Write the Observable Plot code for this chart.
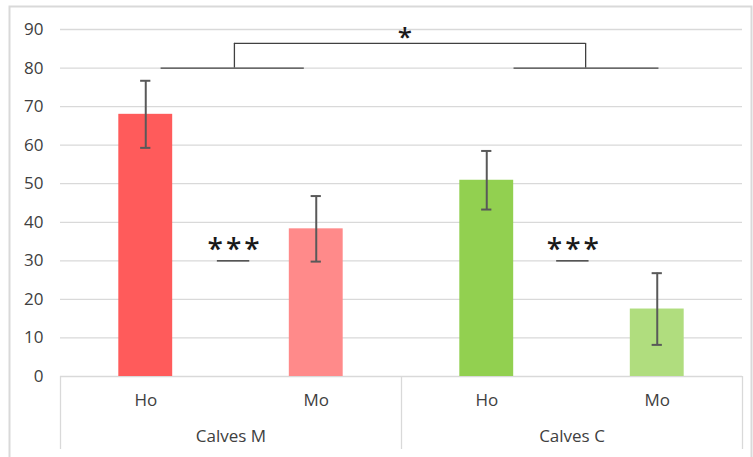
<!DOCTYPE html>
<html>
<head>
<meta charset="utf-8">
<script src="https://cdn.jsdelivr.net/npm/d3@7"></script>
<script src="https://cdn.jsdelivr.net/npm/@observablehq/plot@0.6"></script>
<style>
  html, body { margin: 0; padding: 0; background: #fff; }
  #chart svg { display: block; }
  #chart .sig text { letter-spacing: 3px; }
</style>
</head>
<body>
<div id="chart"></div>
<script>
// Group and treatment names (bars are ordered group by group)
const groups = ["Calves M", "Calves C"];
const treatments = ["Ho", "Mo"];

// Bar heights and error-bar half widths, one per bar
const means = [68.0, 38.3, 50.9, 17.5];
const errors = [8.7, 8.5, 7.6, 9.3];
const colors = ["#ff5b5b", "#ff8a8a", "#92d050", "#b0dd7e"];

// Y ticks
const yTicks = [0, 10, 20, 30, 40, 50, 60, 70, 80, 90];

// Significance marks: within each group (between Ho and Mo) ...
const withinSig = [
  {x1: 0.92, x2: 1.11, y: 30, label: "***"},
  {x1: 2.91, x2: 3.10, y: 30, label: "***"}
];
// ... and between the two groups (bracket joining the two group lines)
const groupLines = [
  {x1: 0.59, x2: 1.43, y: 80},
  {x1: 2.66, x2: 3.51, y: 80}
];
const bracket = {xa: 1.02, xb: 3.08, yBase: 80, yTop: 86.4, label: "*", xLabel: 2.02};

// One row per bar, positioned on a linear index scale (bar i centred at i + 0.5)
const bars = means.map((m, i) => ({
  i,
  group: groups[Math.floor(i / 2)],
  treatment: treatments[i % 2],
  mean: m,
  err: errors[i],
  color: colors[i]
}));
const half = 0.158;   // half bar width in index units
const cap = 0.03;     // half cap width in index units

const textColor = "#404040";
const gridColor = "#d9d9d9";

const chart = Plot.plot({
  width: 753,
  height: 457,
  marginLeft: 60,
  marginRight: 11,
  marginTop: 29,
  marginBottom: 81,
  style: {fontFamily: "'Open Sans', sans-serif", fontSize: "17px", color: textColor, background: "#fff"},
  x: {type: "linear", domain: [0, 4], axis: null},
  y: {domain: [0, 90], axis: null},
  marks: [
    // outer chart border
    Plot.frame({stroke: gridColor, strokeWidth: 2, insetLeft: -51, insetTop: -23, insetRight: -9, insetBottom: -90}),
    // horizontal gridlines
    Plot.ruleY(yTicks, {stroke: gridColor, strokeWidth: 1.3}),
    // category box separators below the baseline
    Plot.ruleX([0, 2, 4], {stroke: gridColor, strokeWidth: 1.3, insetTop: 347, insetBottom: -73}),
    Plot.axisY({ticks: yTicks, tickSize: 0, tickPadding: 17, fontSize: 17, label: null, fill: textColor}),
    Plot.axisX({
      ticks: [0.5, 1.5, 2.5, 3.5],
      tickFormat: d => treatments[Math.floor(d) % 2],
      tickSize: 0, tickPadding: 17, fontSize: 17, label: null, fill: textColor
    }),
    Plot.axisX({
      ticks: [1, 3],
      tickFormat: d => groups[(d - 1) / 2],
      tickSize: 0, tickPadding: 53, fontSize: 17, label: null, fill: textColor
    }),
    // bars
    Plot.rectY(bars, {
      x1: d => d.i + 0.5 - half,
      x2: d => d.i + 0.5 + half,
      y1: 0,
      y2: "mean",
      fill: "color"
    }),
    // error bars
    Plot.ruleX(bars, {x: d => d.i + 0.5, y1: d => d.mean - d.err, y2: d => d.mean + d.err, stroke: "#595959", strokeWidth: 2}),
    Plot.ruleY(bars, {y: d => d.mean + d.err, x1: d => d.i + 0.5 - cap, x2: d => d.i + 0.5 + cap, stroke: "#595959", strokeWidth: 2}),
    Plot.ruleY(bars, {y: d => d.mean - d.err, x1: d => d.i + 0.5 - cap, x2: d => d.i + 0.5 + cap, stroke: "#595959", strokeWidth: 2}),
    // within-group significance
    Plot.ruleY(withinSig, {y: "y", x1: "x1", x2: "x2", stroke: "#262626", strokeWidth: 1.2}),
    Plot.text(withinSig, {
      x: d => (d.x1 + d.x2) / 2, y: "y", text: "label",
      fontSize: 28, fontWeight: 600, fill: "#1a1a1a", dy: -2, dx: 1.5, lineAnchor: "bottom",
      className: "sig"
    }),
    // between-group bracket
    Plot.ruleY(groupLines, {y: "y", x1: "x1", x2: "x2", stroke: "#404040", strokeWidth: 1.3}),
    Plot.ruleX([bracket.xa, bracket.xb], {x: d => d, y1: bracket.yBase, y2: bracket.yTop, stroke: "#404040", strokeWidth: 1.3}),
    Plot.ruleY([bracket], {y: "yTop", x1: "xa", x2: "xb", stroke: "#404040", strokeWidth: 1.3}),
    Plot.text([bracket], {
      x: "xLabel", y: "yTop", text: "label",
      fontSize: 26, fontWeight: 600, fill: "#1a1a1a", dy: 3, lineAnchor: "bottom"
    })
  ]
});

document.getElementById("chart").appendChild(chart);
</script>
</body>
</html>
